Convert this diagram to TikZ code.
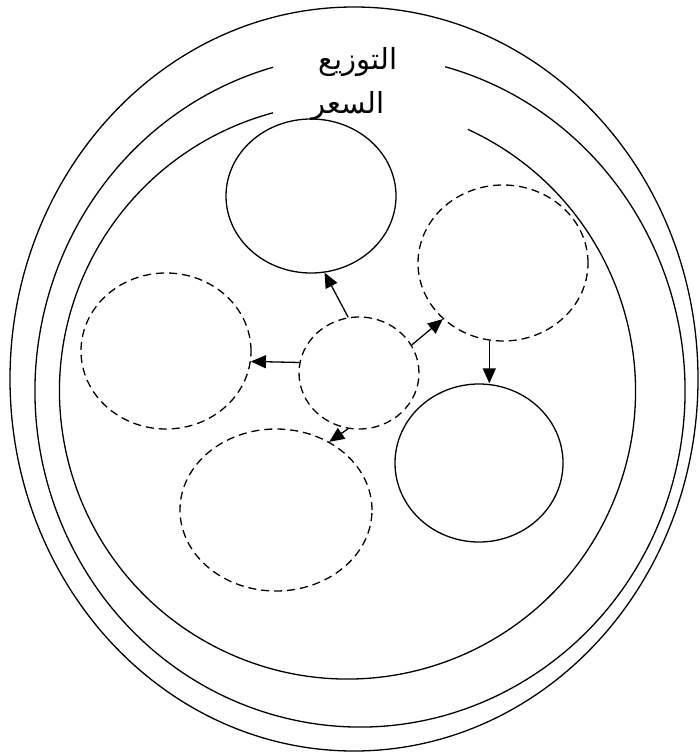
\documentclass[tikz,border=0pt]{standalone}
\usepackage{fontspec}
\newfontfamily\arabicfont[Script=Arabic]{DejaVu Sans}
\TeXXeTstate=1
\usetikzlibrary{arrows.meta, shapes.geometric}

\begin{document}
\begin{tikzpicture}[x=1pt, y=-1pt, line width=1.3pt,
    bubble/.style={draw, ellipse, inner sep=0pt},
    dbubble/.style={bubble, dash pattern=on 8pt off 5pt},
    arr/.style={-{Triangle[length=15pt, width=13pt]}},
    lbl/.style={font=\arabicfont\fontsize{29pt}{34pt}\selectfont, inner sep=1pt},
]
  \useasboundingbox (0,0) rectangle (699,754);

  % Outer rings (the two inner ones open at the top)
  \draw (354,379) ellipse [x radius=344, y radius=372];
  \draw (360,391) ++(285.2:325 and 336)
        arc [start angle=285.2, end angle=614.5, x radius=325, y radius=336];
  \draw (347.5,391) ++(294.7:288 and 288)
        arc [start angle=294.7, end angle=615, x radius=288, y radius=288];

  % Ring labels
  \node[lbl] (dist) at (358,62) {\beginR التوزيع\endR};
  \node[lbl] (price) at (348,106) {\beginR السعر\endR};

  % Inner bubbles
  \node[bubble, minimum width=170pt, minimum height=154pt] (top) at (311,196) {};
  \node[dbubble, minimum width=170pt, minimum height=156pt] (rgt) at (503,263) {};
  \node[dbubble, minimum width=170pt, minimum height=156pt] (lft) at (166,351) {};
  \node[dbubble, minimum width=120pt, minimum height=112pt] (mid) at (359,373) {};
  \node[bubble, minimum width=168pt, minimum height=158pt] (btr) at (479,463) {};
  \node[dbubble, minimum width=192pt, minimum height=162pt] (btl) at (276,510) {};

  % Arrows
  \draw[arr] (mid.101) -- (top.280);
  \draw[arr] (mid.170) -- (lft.353);
  \draw[arr] (mid.28) -- (rgt.223);
  \draw[arr] (mid.259) -- (btl.52);
  \draw[arr] (rgt.260) -- (rgt.260 |- btr.north);
\end{tikzpicture}
\end{document}
